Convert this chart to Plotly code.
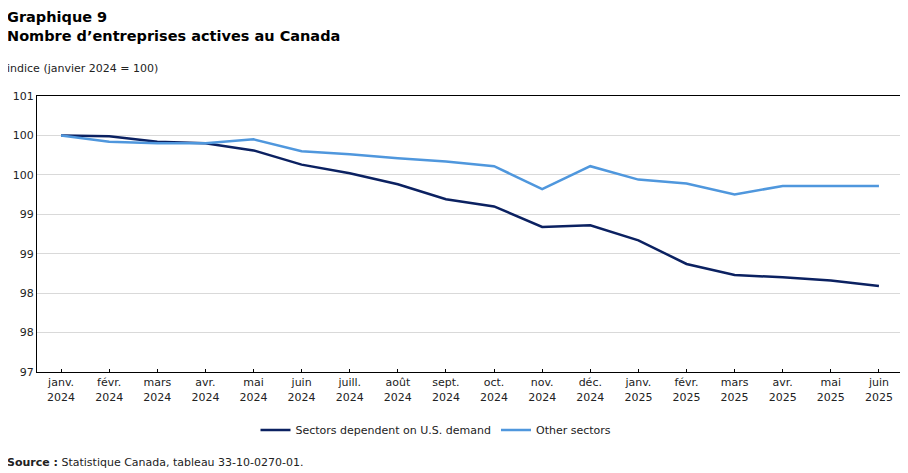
import plotly.graph_objects as go

months = ["janv.<br>2024", "févr.<br>2024", "mars<br>2024", "avr.<br>2024", "mai<br>2024", "juin<br>2024",
          "juill.<br>2024", "août<br>2024", "sept.<br>2024", "oct.<br>2024", "nov.<br>2024", "déc.<br>2024",
          "janv.<br>2025", "févr.<br>2025", "mars<br>2025", "avr.<br>2025", "mai<br>2025", "juin<br>2025"]

us_dependent = [100.0, 99.99, 99.92, 99.90, 99.81, 99.63, 99.52, 99.38, 99.19, 99.10, 98.84, 98.86,
                98.67, 98.37, 98.23, 98.20, 98.16, 98.09]
other_sectors = [100.0, 99.92, 99.90, 99.90, 99.95, 99.80, 99.76, 99.71, 99.67, 99.61, 99.32, 99.61,
                 99.44, 99.39, 99.25, 99.36, 99.36, 99.36]

y_tickvals = [97, 97.5, 98, 98.5, 99, 99.5, 100, 100.5]
y_ticktext = ["97", "98", "98", "99", "99", "100", "100", "101"]

names = ["Sectors dependent on U.S. demand", "Other sectors"]
colors = ["#0b2161", "#4f97dd"]

# page body has an 8px margin: work in viewport coordinates, shifted by OFF
OFF = 8
W, H = 908 - OFF, 473 - OFF
L, R, T, B = 37 - OFF, 908 - 903, 96 - OFF, 473 - 372
PH = H - T - B
PW = W - L - R

def py(y):
    return (H - B - (y - OFF)) / PH

def px(x):
    return ((x - OFF) - L) / PW

font = "DejaVu Sans, Verdana, sans-serif"

fig = go.Figure()
for name, vals, col in zip(names, [us_dependent, other_sectors], colors):
    fig.add_trace(go.Scatter(x=months, y=vals, mode="lines", name=name,
                             line=dict(color=col, width=2.5)))

fig.update_layout(
    width=W, height=H,
    margin=dict(l=L, r=R, t=T, b=B),
    paper_bgcolor="white", plot_bgcolor="white",
    font=dict(family=font, size=11, color="#222222"),
    showlegend=True,
    legend=dict(orientation="h", x=px(436), xanchor="center", y=py(430), yanchor="middle",
                font=dict(family=font, size=11, color="#222222"),
                tracegroupgap=0),
    xaxis=dict(type="category", range=[-0.5, 17.5], showgrid=False,
               showline=True, linecolor="black", linewidth=1, mirror=True,
               ticks="inside", ticklen=3, tickcolor="black",
               tickfont=dict(family=font, size=11, color="#222222")),
    yaxis=dict(range=[97, 100.5], tickvals=y_tickvals, ticktext=y_ticktext,
               showgrid=True, gridcolor="#d9d9d9", gridwidth=1,
               showline=True, linecolor="black", linewidth=1, mirror=True,
               ticks="", zeroline=False,
               tickfont=dict(family=font, size=11, color="#222222")),
    annotations=[
        dict(text="<b>Graphique 9</b>", x=px(5), y=py(17), xref="paper", yref="paper",
             xanchor="left", yanchor="middle", showarrow=False,
             font=dict(family=font, size=14.5, color="black")),
        dict(text="<b>Nombre d’entreprises actives au Canada</b>", x=px(5), y=py(36), xref="paper", yref="paper",
             xanchor="left", yanchor="middle", showarrow=False,
             font=dict(family=font, size=14.5, color="black")),
        dict(text="indice (janvier 2024 = 100)", x=px(5), y=py(68), xref="paper", yref="paper",
             xanchor="left", yanchor="middle", showarrow=False,
             font=dict(family=font, size=11, color="#222222")),
        dict(text="<b>Source :</b> Statistique Canada, tableau 33-10-0270-01.", x=px(5), y=py(462),
             xref="paper", yref="paper", xanchor="left", yanchor="middle", showarrow=False,
             font=dict(family=font, size=11, color="#222222")),
    ],
)

fig.write_html("out.html")
